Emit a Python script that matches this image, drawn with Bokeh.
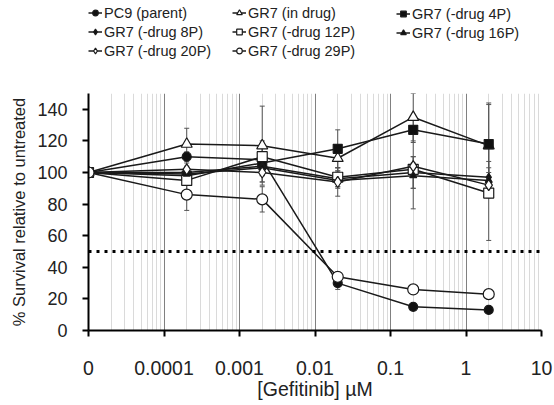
import math
from bokeh.plotting import figure
from bokeh.layouts import column
from bokeh.models import (Range1d, FixedTicker, CustomJSTickFormatter, Span, Legend,
                          LegendItem, Whisker, ColumnDataSource, TeeHead)
from bokeh.embed import file_html
from bokeh.resources import INLINE

# ---------------- data ----------------
doses = [0, 0.0002, 0.002, 0.02, 0.2, 2]          # µM ; 0 is drawn at the "0" tick
zero_position = 1e-5
x_ticks = [1e-5, 1e-4, 1e-3, 1e-2, 1e-1, 1, 10]
x_tick_labels = ["0", "0.0001", "0.001", "0.01", "0.1", "1", "10"]
y_ticks = [0, 20, 40, 60, 80, 100, 120, 140]

series_names = ["PC9 (parent)", "GR7 (in drug)", "GR7 (-drug 4P)",
                "GR7 (-drug 8P)", "GR7 (-drug 12P)", "GR7 (-drug 16P)",
                "GR7 (-drug 20P)", "GR7 (-drug 29P)"]
pc9 = [100, 110, 108, 30, 15, 13]
gr7_in_drug = [100, 118, 117, 109, 135, 117]
gr7_4p = [100, 98, 106, 115, 127, 118]
gr7_8p = [100, 100, 104, 96, 100, 97]
gr7_12p = [100, 95, 110, 97, 102, 87]
gr7_16p = [100, 99, 103, 95, 98, 95]
gr7_20p = [100, 102, 100, 94, 104, 92]
gr7_29p = [100, 86, 83, 34, 26, 23]

pc9_err = [0, 3, 3, 4, 2, 2]
gr7_in_drug_err = [0, 10, 25, 8, 15, 27]
gr7_4p_err = [0, 5, 12, 12, 8, 25]
gr7_8p_err = [0, 6, 6, 5, 10, 10]
gr7_12p_err = [0, 8, 10, 6, 25, 30]
gr7_16p_err = [0, 5, 5, 5, 8, 8]
gr7_20p_err = [0, 6, 6, 9, 6, 8]
gr7_29p_err = [0, 10, 8, 3, 2, 3]

threshold = 50

# ---------------- styles ----------------
FONT = "Liberation Sans"
INK = "#1a1a1a"
styles = [
    dict(marker="circle", size=9, fill="#111111"),
    dict(marker="triangle", size=11, fill="white"),
    dict(marker="square", size=9, fill="#111111"),
    dict(marker="diamond", size=8, fill="#111111"),
    dict(marker="square", size=10, fill="white"),
    dict(marker="triangle", size=7, fill="#111111"),
    dict(marker="diamond", size=11, fill="white"),
    dict(marker="circle", size=11, fill="white"),
]
values = [pc9, gr7_in_drug, gr7_4p, gr7_8p, gr7_12p, gr7_16p, gr7_20p, gr7_29p]
errors = [pc9_err, gr7_in_drug_err, gr7_4p_err, gr7_8p_err, gr7_12p_err,
          gr7_16p_err, gr7_20p_err, gr7_29p_err]

xs = [zero_position if d == 0 else d for d in doses]

TOP_H = 62
FRAME_LEFT = 88

# ---------------- main plot ----------------
p = figure(width=554, height=405 - TOP_H, x_axis_type="log",
           x_range=Range1d(1e-5, 10), y_range=Range1d(0, 150),
           output_backend="svg", toolbar_location=None,
           min_border_left=FRAME_LEFT, min_border_right=13,
           min_border_top=93 - TOP_H, min_border_bottom=75)
p.outline_line_color = None
p.background_fill_color = "white"

minor = [m * 10 ** e for e in range(-5, 1) for m in range(2, 10)]
p.xaxis.ticker = FixedTicker(ticks=x_ticks, minor_ticks=minor)
labels_map = {str(round(math.log10(t))): lab for t, lab in zip(x_ticks, x_tick_labels)}
p.xaxis.formatter = CustomJSTickFormatter(args=dict(labels=labels_map), code="""
    const e = String(Math.round(Math.log10(tick)));
    return (e in labels) ? labels[e] : "";
""")
p.yaxis.ticker = FixedTicker(ticks=y_ticks)

for ax in (p.xaxis[0], p.yaxis[0]):
    ax.axis_line_color = "black"
    ax.axis_line_width = 2
    ax.major_tick_line_color = "black"
    ax.major_tick_line_width = 2
    ax.major_tick_out = 6
    ax.major_tick_in = 0
    ax.minor_tick_line_color = None
    ax.major_label_text_font = FONT
    ax.axis_label_text_font = FONT
    ax.major_label_text_color = "#222222"
    ax.axis_label_text_color = "#222222"
    ax.axis_label_text_font_style = "normal"

p.xaxis.axis_label = "[Gefitinib] µM"
p.xaxis.major_label_text_font_size = "19.5px"
p.xaxis.axis_label_text_font_size = "19.5px"
p.xaxis.major_label_standoff = 24
p.xaxis.axis_label_standoff = 0

p.yaxis.axis_label = "% Survival relative to untreated"
p.yaxis.major_label_text_font_size = "18px"
p.yaxis.axis_label_text_font_size = "16.5px"
p.yaxis.major_label_standoff = 15
p.yaxis.axis_label_standoff = 6

p.ygrid.grid_line_color = None
p.xgrid.grid_line_color = "#808080"
p.xgrid.grid_line_width = 1
p.xgrid.minor_grid_line_color = "#dadada"
p.xgrid.minor_grid_line_width = 1

p.add_layout(Span(location=threshold, dimension="width", line_color="black",
                  line_width=3, line_dash="3 5"))

for name, vals, errs, st in zip(series_names, values, errors, styles):
    src = ColumnDataSource(dict(x=xs, y=vals,
                                lo=[v - e for v, e in zip(vals, errs)],
                                hi=[v + e for v, e in zip(vals, errs)]))
    w = Whisker(source=src, base="x", lower="lo", upper="hi", dimension="height",
                line_color="#555555", line_width=1,
                upper_head=TeeHead(size=5, line_color="#555555", line_width=1),
                lower_head=TeeHead(size=5, line_color="#555555", line_width=1))
    p.add_layout(w)
    p.line("x", "y", source=src, line_color=INK, line_width=1.5)
    p.scatter("x", "y", source=src, marker=st["marker"], size=st["size"],
              fill_color=st["fill"], line_color=INK, line_width=1.2)

# ---------------- legend strip (its frame is aligned with the main plot's frame) ----------------
top = figure(width=554, height=TOP_H, x_range=Range1d(0, 1), y_range=Range1d(0, 1),
             output_backend="svg", toolbar_location=None,
             x_axis_location=None, y_axis_location=None,
             min_border=0, min_border_left=0, min_border_right=0,
             min_border_top=0, min_border_bottom=0)
top.outline_line_color = None
top.xgrid.visible = False
top.ygrid.visible = False

legend_renderers = []
for name, st in zip(series_names, styles):
    hidden = ColumnDataSource(dict(x=[-10, -9], y=[-10, -10]))   # outside the view
    lr = top.line("x", "y", source=hidden, line_color=INK, line_width=1.5)
    sr = top.scatter("x", "y", source=hidden, marker=st["marker"], size=st["size"],
                     fill_color=st["fill"], line_color=INK, line_width=1.2)
    legend_renderers.append((name, lr, sr))

columns = [[0, 3, 6], [1, 4, 7], [2, 5]]
col_x = [FRAME_LEFT, 232, 396]
for cx, idxs in zip(col_x, columns):
    items = [LegendItem(label=legend_renderers[i][0],
                        renderers=[legend_renderers[i][1], legend_renderers[i][2]])
             for i in idxs]
    bottom = TOP_H - (7.5 + 18 * len(idxs) - 3)
    lg = Legend(items=items, location=(cx - FRAME_LEFT, bottom), orientation="vertical",
                glyph_width=14, glyph_height=15, label_height=15, spacing=3,
                label_standoff=2, padding=0, margin=0,
                border_line_color=None, background_fill_alpha=0,
                label_text_font=FONT, label_text_font_size="14.5px",
                label_text_color="#222222")
    top.add_layout(lg, "center")

open("out.html", "w").write(file_html(column(top, p, spacing=0), INLINE))
